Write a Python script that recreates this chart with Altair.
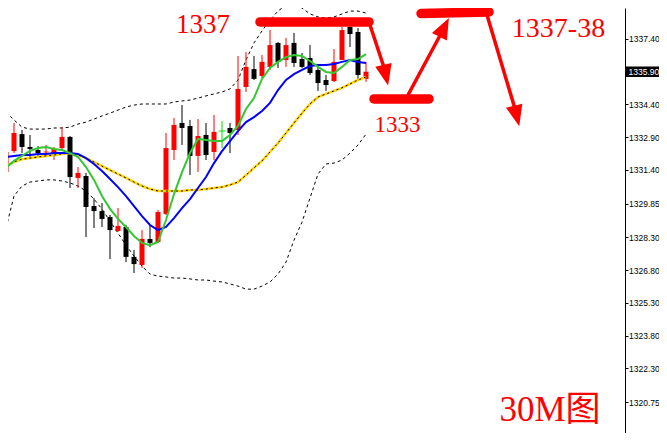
import altair as alt
import pandas as pd

# ---------------- candle data (30-minute bars, left to right) ----------------
candle_index = list(range(46))
opens = [1331.30, 1332.26, 1333.04, 1332.45, 1332.31, 1332.20, 1332.17, 1332.40, 1332.91, 1331.03,
         1331.12, 1329.74, 1329.51, 1329.24, 1328.60, 1328.78, 1327.41, 1327.04, 1328.23, 1328.09,
         1329.38, 1332.31, 1333.55, 1333.41, 1332.04, 1333.00, 1332.22, 1333.18, 1333.32, 1333.23,
         1335.20, 1336.02, 1335.70, 1336.12, 1337.22, 1336.44, 1337.22, 1336.48, 1336.53, 1335.98,
         1335.52, 1335.47, 1336.44, 1337.95, 1337.72, 1335.57]
highs = [1332.45, 1333.55, 1333.23, 1333.00, 1332.49, 1332.54, 1332.45, 1333.37, 1332.95, 1331.53,
         1331.26, 1330.11, 1329.88, 1329.33, 1329.65, 1328.87, 1327.73, 1328.64, 1328.87, 1329.56,
         1333.09, 1333.78, 1334.37, 1333.69, 1333.73, 1333.55, 1333.92, 1333.64, 1333.55, 1336.62,
         1336.80, 1336.62, 1336.67, 1337.81, 1337.26, 1337.45, 1337.68, 1336.76, 1337.12, 1336.21,
         1335.75, 1336.94, 1337.98, 1337.98, 1337.90, 1336.35]
lows = [1331.16, 1332.17, 1332.17, 1331.94, 1332.03, 1331.99, 1331.85, 1332.31, 1330.57, 1330.57,
        1328.32, 1328.73, 1328.78, 1327.31, 1328.55, 1327.17, 1326.67, 1326.90, 1327.86, 1328.05,
        1329.33, 1331.85, 1332.54, 1331.16, 1331.30, 1331.85, 1331.85, 1332.40, 1332.17, 1333.00,
        1334.97, 1335.52, 1335.61, 1335.98, 1336.07, 1336.12, 1336.12, 1336.07, 1335.75, 1335.02,
        1335.02, 1335.43, 1336.44, 1337.03, 1335.52, 1335.43]
closes = [1332.22, 1333.09, 1332.45, 1332.36, 1332.17, 1332.24, 1332.36, 1332.91, 1331.07, 1331.26,
          1329.70, 1329.51, 1329.15, 1328.64, 1328.83, 1327.41, 1327.08, 1328.23, 1328.05, 1329.47,
          1332.40, 1333.46, 1333.32, 1332.04, 1332.95, 1332.08, 1333.14, 1333.18, 1333.09, 1335.11,
          1336.12, 1335.57, 1336.35, 1337.12, 1336.35, 1337.12, 1336.30, 1336.12, 1335.84, 1335.38,
          1335.29, 1336.35, 1337.81, 1337.63, 1335.75, 1335.90]

# ---------------- indicator lines ----------------
ma_green = [1331.49, 1331.81, 1332.04, 1332.27, 1332.40, 1332.45, 1332.36, 1332.31, 1332.17, 1331.99,
            1331.53, 1330.94, 1330.20, 1329.61, 1329.15, 1328.78, 1328.37, 1328.05, 1327.95, 1328.09,
            1329.10, 1330.29, 1331.30, 1332.17, 1332.82, 1332.77, 1332.72, 1332.72, 1333.00, 1333.41,
            1334.19, 1334.69, 1335.57, 1336.07, 1336.35, 1336.57, 1336.67, 1336.62, 1336.39, 1336.12,
            1335.89, 1335.84, 1336.12, 1336.44, 1336.48, 1336.71]
ma_blue = [1331.99, 1332.04, 1332.08, 1332.08, 1332.13, 1332.13, 1332.17, 1332.17, 1332.17, 1332.13,
           1331.94, 1331.67, 1331.35, 1330.98, 1330.61, 1330.20, 1329.74, 1329.28, 1328.87, 1328.64,
           1328.78, 1329.19, 1329.65, 1330.06, 1330.57, 1331.07, 1331.71, 1332.26, 1332.72, 1333.18,
           1333.59, 1333.82, 1334.10, 1334.47, 1335.06, 1335.52, 1335.79, 1335.98, 1336.16, 1336.21,
           1336.21, 1336.25, 1336.35, 1336.44, 1336.35, 1336.30]
ma_yellow = [1331.57, 1331.76, 1331.89, 1331.94, 1331.99, 1332.04, 1332.08, 1332.13, 1332.17, 1332.08,
             1331.94, 1331.76, 1331.57, 1331.39, 1331.21, 1331.03, 1330.84, 1330.66, 1330.52, 1330.43,
             1330.43, 1330.43, 1330.43, 1330.48, 1330.48, 1330.52, 1330.57, 1330.61, 1330.71, 1330.84,
             1331.16, 1331.49, 1331.81, 1332.22, 1332.63, 1333.09, 1333.55, 1334.00, 1334.42, 1334.74,
             1334.88, 1335.02, 1335.16, 1335.34, 1335.52, 1335.66]
bb_upper = [1334.05, 1333.69, 1333.36, 1333.27, 1333.27, 1333.27, 1333.32, 1333.32, 1333.36, 1333.50,
            1333.59, 1333.73, 1333.87, 1334.00, 1334.14, 1334.28, 1334.37, 1334.42, 1334.42, 1334.42,
            1334.42, 1334.51, 1334.56, 1334.60, 1334.69, 1334.79, 1334.88, 1334.97, 1335.11, 1335.52,
            1336.44, 1337.22, 1337.77, 1338.27, 1338.68, 1338.96, 1339.00, 1338.82, 1338.55, 1338.41,
            1338.36, 1338.41, 1338.55, 1338.68, 1338.68, 1338.59]
bb_lower = [1328.73, 1330.20, 1330.66, 1330.84, 1330.89, 1330.94, 1330.94, 1330.89, 1330.80, 1330.66,
            1330.43, 1330.06, 1329.60, 1329.05, 1328.50, 1327.95, 1327.45, 1326.99, 1326.62, 1326.53,
            1326.49, 1326.44, 1326.44, 1326.40, 1326.35, 1326.35, 1326.30, 1326.26, 1326.17, 1326.07,
            1325.93, 1325.93, 1326.07, 1326.26, 1326.62, 1327.17, 1328.18, 1329.00, 1330.11, 1331.21,
            1331.67, 1331.71, 1331.85, 1332.17, 1332.54, 1333.04]

# ---------------- price axis ----------------
tick_values = [1337.40, 1335.90, 1334.40, 1332.90, 1331.40, 1329.85, 1328.30,
               1326.80, 1325.30, 1323.80, 1322.30, 1320.75, 1319.20]
current_price = [1335.90]

# ---------------- hand-drawn annotations (bar index / price) ----------------
bar_x = [31.75, 46.0, 51.875]
bar_x2 = [45.375, 52.875, 60.375]
bar_y = [1338.18, 1334.65, 1338.57]
bar_y2 = [1338.18, 1334.65, 1338.64]

shaft_x = [45.5, 50.25, 60.125]
shaft_y = [1338.04, 1334.83, 1338.50]
shaft_x2 = [47.2, 54.25, 63.56]
shaft_y2 = [1336.15, 1337.56, 1334.28]

head_x = [47.47, 54.77, 63.84]
head_y = [1335.74, 1337.93, 1333.87]
head_angles = [347, 207, 346]

ann_text = ["1337", "1333", "1337-38", "30M图"]
ann_x = [24.625, 48.94, 69.06, 68.0]
ann_y = [1337.68, 1333.13, 1337.49, 1319.88]
ann_sizes = [27, 23, 28, 35]

# ---------------- build ----------------
df = pd.DataFrame({"i": candle_index, "open": opens, "high": highs, "low": lows, "close": closes,
                   "green": ma_green, "blue": ma_blue, "yellow": ma_yellow,
                   "upper": bb_upper, "lower": bb_lower})
df["dir"] = ["up" if c > o else ("down" if c < o else "doji") for o, c in zip(opens, closes)]

xs = alt.Scale(domain=[0.25, 77.375], nice=False, zero=False, padding=0)
ys = alt.Scale(domain=[1319.335, 1338.821], nice=False, zero=False, padding=0)
cscale = alt.Scale(domain=["up", "down", "doji"], range=["#ff0000", "#000000", "#00e000"])
X = alt.X("i:Q", scale=xs, axis=None)

AXIS_FONT = "Liberation Sans"
AXIS_SIZE = 8.5

price_axis = alt.Axis(orient="right", values=tick_values, format=".2f", title=None, grid=False,
                      labelFont=AXIS_FONT, labelFontSize=AXIS_SIZE, labelColor="black",
                      tickColor="black", tickSize=3, domainColor="black", domainWidth=1,
                      labelPadding=0.5, labelOverlap=False, labelFlush=False)


def yq(field):
    return alt.Y(f"{field}:Q", scale=ys, axis=price_axis)


def xq(field):
    return alt.X(f"{field}:Q", scale=xs, axis=None)


base = alt.Chart(df)

upper = base.mark_line(color="black", strokeWidth=1, strokeDash=[3, 3], clip=True).encode(x=X, y=yq("upper"))
lower = base.mark_line(color="black", strokeWidth=1, strokeDash=[3, 3], clip=True).encode(x=X, y=yq("lower"))

wicks = base.mark_rule(strokeWidth=1, clip=True).encode(
    x=X, y=yq("low"), y2="high:Q",
    color=alt.Color("dir:N", scale=cscale, legend=None))
bodies = base.mark_bar(width=5, clip=True).encode(
    x=X, y=yq("open"), y2="close:Q",
    color=alt.Color("dir:N", scale=cscale, legend=None))
doji = base.transform_filter("datum.dir == 'doji'").transform_calculate(
    xl="datum.i - 0.4", xr="datum.i + 0.4").mark_rule(color="#00e000", strokeWidth=1, clip=True).encode(
    x=xq("xl"), x2="xr:Q", y=yq("close"))

yellow = base.mark_line(color="#ffd200", strokeWidth=2.5, clip=True).encode(x=X, y=yq("yellow"))
yellow_dash = base.mark_line(color="black", strokeWidth=1, strokeDash=[2, 3], clip=True).encode(x=X, y=yq("yellow"))
blue = base.mark_line(color="#0000ff", strokeWidth=2, clip=True).encode(x=X, y=yq("blue"))
green = base.mark_line(color="#32c832", strokeWidth=2, clip=True).encode(x=X, y=yq("green"))

bars_df = pd.DataFrame({"x": bar_x, "x2": bar_x2, "y": bar_y, "y2": bar_y2})
bars = alt.Chart(bars_df).mark_rule(color="#ff0000", strokeWidth=9.5, strokeCap="round", clip=True).encode(
    x=xq("x"), x2="x2:Q", y=yq("y"), y2="y2:Q")

shafts_df = pd.DataFrame({"x": shaft_x, "x2": shaft_x2, "y": shaft_y, "y2": shaft_y2})
shafts = alt.Chart(shafts_df).mark_rule(color="#ff0000", strokeWidth=3.5, strokeCap="round", clip=True).encode(
    x=xq("x"), x2="x2:Q", y=yq("y"), y2="y2:Q")

head_path = "M -0.8 -1 L 0.8 -1 L 0 1 Z"
heads = []
for hx, hy, ang in zip(head_x, head_y, head_angles):
    hdf = pd.DataFrame({"x": [hx], "y": [hy]})
    heads.append(alt.Chart(hdf).mark_point(shape=head_path, filled=True, size=440, color="#ff0000",
                                           opacity=1, angle=ang, strokeWidth=0, clip=True).encode(
        x=xq("x"), y=yq("y")))

texts = []
for t, tx, ty, fs in zip(ann_text, ann_x, ann_y, ann_sizes):
    tdf = pd.DataFrame({"x": [tx], "y": [ty], "t": [t]})
    texts.append(alt.Chart(tdf).mark_text(
        font="'Liberation Serif', 'Noto Sans CJK SC', serif", fontSize=fs, color="#ff0000",
        align="center", baseline="alphabetic").encode(
        x=xq("x"), y=yq("y"), text="t:N"))

cp_df = pd.DataFrame({"p": current_price})
cp_df["lo"] = cp_df["p"] - 0.24
cp_df["hi"] = cp_df["p"] + 0.24
cp_df["label"] = cp_df["p"].map(lambda v: f"{v:.2f}")
cp_box = alt.Chart(cp_df).mark_rect(color="black", clip=False).encode(
    x=alt.value(618), x2=alt.value(651), y=yq("lo"), y2="hi:Q")
cp_text = alt.Chart(cp_df).mark_text(font=AXIS_FONT, fontSize=AXIS_SIZE, color="white",
                                     align="left", baseline="middle", clip=False).encode(
    x=alt.value(620.5), y=yq("p"), text="label:N")

chart = alt.layer(
    upper, lower, wicks, bodies, doji, yellow, yellow_dash, blue, green,
    bars, shafts, *heads, *texts, cp_box, cp_text
).properties(
    width=617, height=425,
    autosize=alt.AutoSizeParams(type="none"),
    padding={"left": 0, "top": 0, "right": 34, "bottom": 0},
    background="white",
).configure_view(stroke=None)

chart.save("out.html", embed_options={"renderer": "svg", "actions": False})
